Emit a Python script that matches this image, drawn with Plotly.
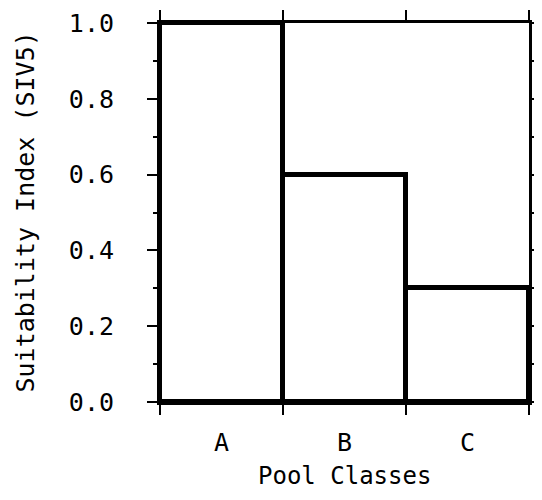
import plotly.graph_objects as go

categories = ["A", "B", "C"]
values = [1.0, 0.6, 0.3]
y_ticks = [0.0, 0.2, 0.4, 0.6, 0.8, 1.0]
y_tick_labels = ["0.0", "0.2", "0.4", "0.6", "0.8", "1.0"]
x_title = "Pool Classes"
y_title = "Suitability Index (SIV5)"

FONT = "DejaVu Sans Mono"

fig = go.Figure()
fig.add_trace(go.Bar(
    x=categories, y=values, width=1,
    marker=dict(color="white", line=dict(color="black", width=5)),
    showlegend=False,
))

# page body has an 8px default margin, so the figure is sized to fit inside
fig.update_layout(
    width=526, height=484,
    margin=dict(l=152, r=5, t=15, b=90, autoexpand=False),
    plot_bgcolor="white", paper_bgcolor="white",
    bargap=0,
    font=dict(family=FONT, size=25, color="black"),
    annotations=[
        dict(text=x_title, xref="paper", yref="paper", x=0.5, y=0,
             yshift=-74, xanchor="center", yanchor="middle", showarrow=False,
             font=dict(size=24, family=FONT)),
        dict(text=y_title, xref="paper", yref="paper", x=0, y=0.5,
             xshift=-135, xanchor="center", yanchor="middle", textangle=-90,
             showarrow=False, font=dict(size=25, family=FONT)),
    ],
)

fig.update_xaxes(
    type="category", range=[-0.5, 2.5], tickson="boundaries", automargin=False,
    showline=True, linecolor="black", linewidth=3, mirror="ticks",
    ticks="outside", ticklen=10, tickwidth=2, tickcolor="black",
    showgrid=False, zeroline=False, ticklabelstandoff=16,
    tickfont=dict(size=25, family=FONT),
)
fig.update_yaxes(
    range=[0, 1.0], tickvals=y_ticks, ticktext=y_tick_labels, automargin=False,
    showline=True, linecolor="black", linewidth=3, mirror="ticks",
    ticks="outside", ticklen=10, tickwidth=2, tickcolor="black",
    minor=dict(dtick=0.1, ticks="outside", ticklen=4, tickwidth=2, tickcolor="black", showgrid=False),
    showgrid=False, zeroline=False, ticklabelstandoff=28,
    tickfont=dict(size=25, family=FONT),
)

fig.write_html("out.html")
